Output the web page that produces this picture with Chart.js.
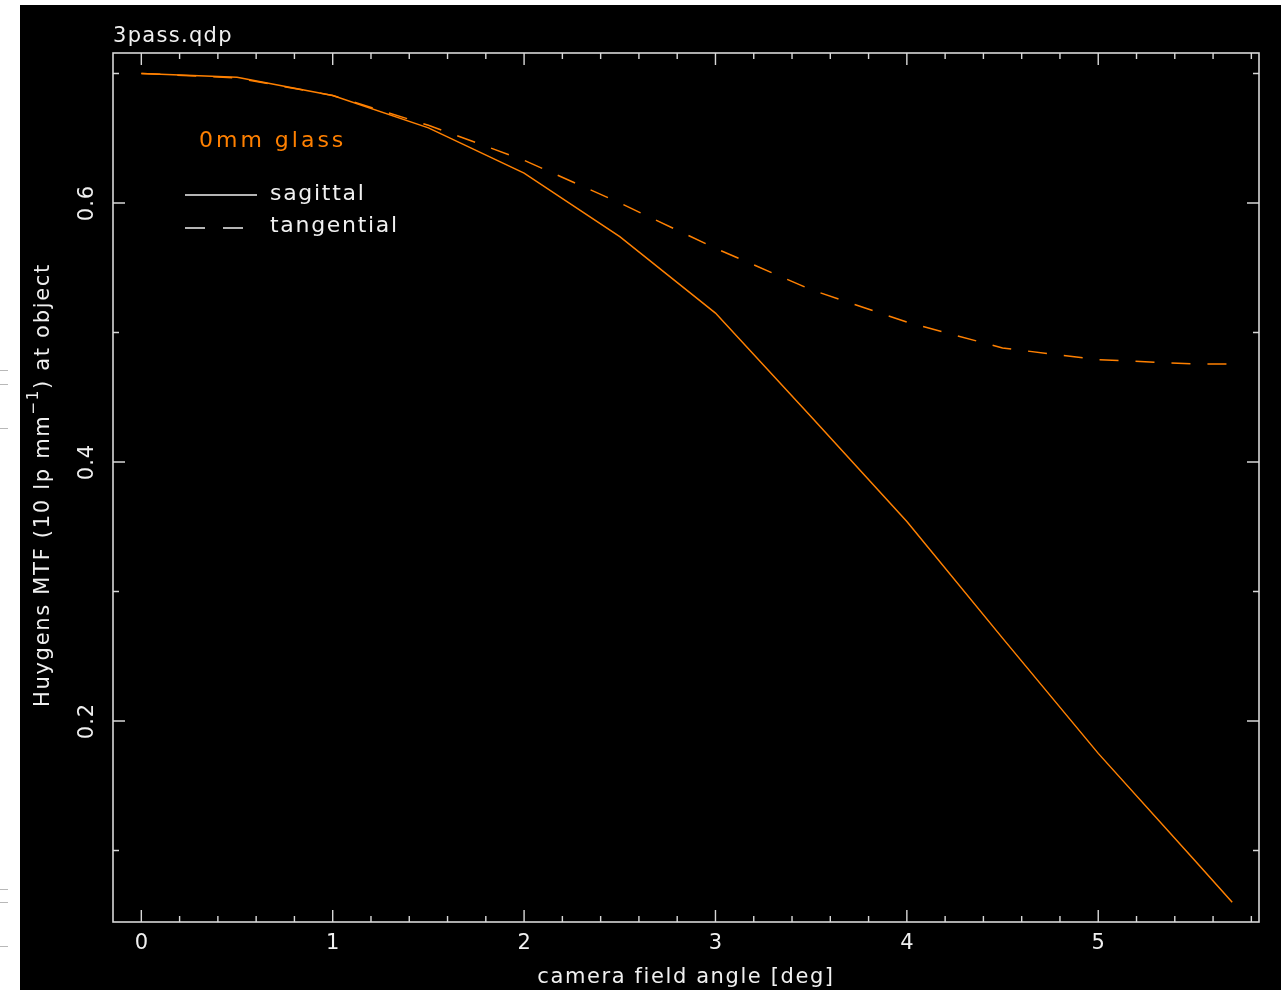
<!DOCTYPE html>
<html>
<head>
<meta charset="utf-8">
<title>3pass.qdp</title>
<script src="https://cdn.jsdelivr.net/npm/chart.js@4/dist/chart.umd.min.js"></script>
<style>
  html, body { margin: 0; padding: 0; background: #ffffff; }
  #wrap { position: relative; width: 1281px; height: 990px; }
</style>
</head>
<body>
<div id="wrap"><canvas id="mtf" width="1281" height="990"></canvas></div>
<script>
// Field angles [deg] and Huygens MTF at 10 lp/mm for each orientation
const fieldAngle = [0, 0.5, 1.0, 1.5, 2.0, 2.5, 3.0, 3.5, 4.0, 4.5, 5.0, 5.5, 5.7];
const sagittal   = [0.700, 0.697, 0.683, 0.658, 0.623, 0.574, 0.515, 0.435, 0.354, 0.264, 0.175, 0.093, 0.060];
const tangential = [0.700, 0.6965, 0.683, 0.660, 0.633, 0.600, 0.565, 0.533, 0.508, 0.488, 0.479, 0.4757, 0.4757];

const xMajorTicks = [0, 1, 2, 3, 4, 5];
const yMajorTicks = [0.2, 0.4, 0.6];
const xTickLabels = ['0', '1', '2', '3', '4', '5'];
const yTickLabels = ['0.2', '0.4', '0.6'];

const plotTitle = '3pass.qdp';
const xTitle = 'camera field angle [deg]';
const noteText = '0mm glass';

const ORANGE = '#ff8000';
const FRAME = '#d8d8d8';
const TEXT = '#f0f0f0';
const FONT = '"DejaVu Sans", sans-serif';

function toPoints(xs, ys) { return xs.map((x, i) => ({ x: x, y: ys[i] })); }

// Black panel behind everything
const panelPlugin = {
  id: 'panel',
  beforeDraw(chart) {
    const ctx = chart.ctx;
    ctx.save();
    ctx.fillStyle = '#ffffff';
    ctx.fillRect(0, 0, chart.width, chart.height);
    ctx.fillStyle = '#000000';
    ctx.fillRect(20, 5, chart.width - 20, chart.height - 5);
    // stray marks in the left margin
    ctx.strokeStyle = '#b8b8b8';
    ctx.lineWidth = 1;
    [370.5, 384.5, 428.5, 889.5, 902.5, 946.5].forEach(y => {
      ctx.beginPath(); ctx.moveTo(0, y); ctx.lineTo(8, y); ctx.stroke();
    });
    ctx.restore();
  }
};

function textSpaced(ctx, str, x, y, spacing) {
  ctx.letterSpacing = spacing + 'px';
  ctx.fillText(str, x, y);
  ctx.letterSpacing = '0px';
}

// Frame, inward ticks on all four sides, labels and annotations
const framePlugin = {
  id: 'frame',
  afterDraw(chart) {
    const ctx = chart.ctx;
    const a = chart.chartArea;
    const xs = chart.scales.x, ys = chart.scales.y;
    ctx.save();
    ctx.strokeStyle = FRAME;
    ctx.lineWidth = 1.6;
    ctx.strokeRect(a.left, a.top, a.right - a.left, a.bottom - a.top);

    ctx.lineWidth = 1.4;
    // x ticks: minor every 0.2, major every 1
    for (let k = 0; k <= 29; k++) {
      const v = k * 0.2;
      if (v > xs.max) break;
      const px = xs.getPixelForValue(v);
      const major = (k % 5 === 0);
      const len = major ? 12 : 6;
      ctx.beginPath();
      ctx.moveTo(px, a.bottom); ctx.lineTo(px, a.bottom - len);
      ctx.moveTo(px, a.top); ctx.lineTo(px, a.top + len);
      ctx.stroke();
    }
    // y ticks: minor every 0.1, major every 0.2
    for (let k = 1; k <= 7; k++) {
      const v = k * 0.1;
      if (v < ys.min || v > ys.max) continue;
      const py = ys.getPixelForValue(v);
      const major = (k % 2 === 0);
      const len = major ? 12 : 6;
      ctx.beginPath();
      ctx.moveTo(a.left, py); ctx.lineTo(a.left + len, py);
      ctx.moveTo(a.right, py); ctx.lineTo(a.right - len, py);
      ctx.stroke();
    }

    ctx.fillStyle = TEXT;
    ctx.font = '21px ' + FONT;
    ctx.textAlign = 'center';
    ctx.textBaseline = 'middle';
    xMajorTicks.forEach((v, i) => {
      ctx.fillText(xTickLabels[i], xs.getPixelForValue(v), 944);
    });
    yMajorTicks.forEach((v, i) => {
      ctx.save();
      ctx.translate(88, ys.getPixelForValue(v));
      ctx.rotate(-Math.PI / 2);
      textSpaced(ctx, yTickLabels[i], 0, 0, 1);
      ctx.restore();
    });

    // plot title
    ctx.textAlign = 'left';
    ctx.textBaseline = 'alphabetic';
    ctx.font = '21px ' + FONT;
    textSpaced(ctx, plotTitle, 113, 42, 1.3);

    // x axis title
    ctx.textAlign = 'center';
    textSpaced(ctx, xTitle, 686, 983, 1.6);

    // y axis title with superscript
    ctx.save();
    ctx.translate(49, 485);
    ctx.rotate(-Math.PI / 2);
    const partA = 'Huygens MTF (10 lp mm';
    const sup = '\u22121';
    const partB = ') at object';
    ctx.font = '21px ' + FONT;
    ctx.letterSpacing = '1.7px';
    const wA = ctx.measureText(partA).width;
    const wB = ctx.measureText(partB).width;
    ctx.font = '15px ' + FONT;
    const wS = ctx.measureText(sup).width;
    const total = wA + wS + wB;
    let cx = -total / 2;
    ctx.textAlign = 'left';
    ctx.font = '21px ' + FONT;
    ctx.fillText(partA, cx, 0); cx += wA;
    ctx.font = '15px ' + FONT;
    ctx.fillText(sup, cx, -11); cx += wS;
    ctx.font = '21px ' + FONT;
    ctx.fillText(partB, cx, 0);
    ctx.letterSpacing = '0px';
    ctx.restore();

    // annotation and legend
    ctx.font = '22px ' + FONT;
    ctx.fillStyle = ORANGE;
    ctx.textAlign = 'left';
    ctx.textBaseline = 'middle';
    textSpaced(ctx, noteText, 199, 141, 3);

    ctx.fillStyle = TEXT;
    ctx.strokeStyle = TEXT;
    ctx.lineWidth = 1.4;
    ctx.beginPath(); ctx.moveTo(185, 195); ctx.lineTo(257, 195); ctx.stroke();
    ctx.beginPath();
    ctx.moveTo(185, 228); ctx.lineTo(205, 228);
    ctx.moveTo(223, 228); ctx.lineTo(243, 228);
    ctx.stroke();
    ctx.font = '22px ' + FONT;
    textSpaced(ctx, chart.data.datasets[0].label, 270, 194, 1.7);
    textSpaced(ctx, chart.data.datasets[1].label, 270, 226, 1.7);
    ctx.restore();
  }
};

new Chart(document.getElementById('mtf'), {
  type: 'line',
  data: {
    datasets: [
      {
        label: 'sagittal',
        data: toPoints(fieldAngle, sagittal),
        borderColor: ORANGE,
        borderWidth: 1.5,
        pointRadius: 0,
        tension: 0,
        fill: false
      },
      {
        label: 'tangential',
        data: toPoints(fieldAngle, tangential),
        borderColor: ORANGE,
        borderWidth: 1.5,
        borderDash: [19, 17],
        pointRadius: 0,
        tension: 0,
        fill: false
      }
    ]
  },
  options: {
    responsive: false,
    animation: false,
    devicePixelRatio: 1,
    layout: { padding: { left: 113, top: 53, right: 22, bottom: 68 } },
    plugins: { legend: { display: false }, tooltip: { enabled: false }, title: { display: false } },
    scales: {
      x: { type: 'linear', min: -0.148, max: 5.84, display: false },
      y: { type: 'linear', min: 0.0448, max: 0.7158, display: false }
    }
  },
  plugins: [panelPlugin, framePlugin]
});
</script>
</body>
</html>
